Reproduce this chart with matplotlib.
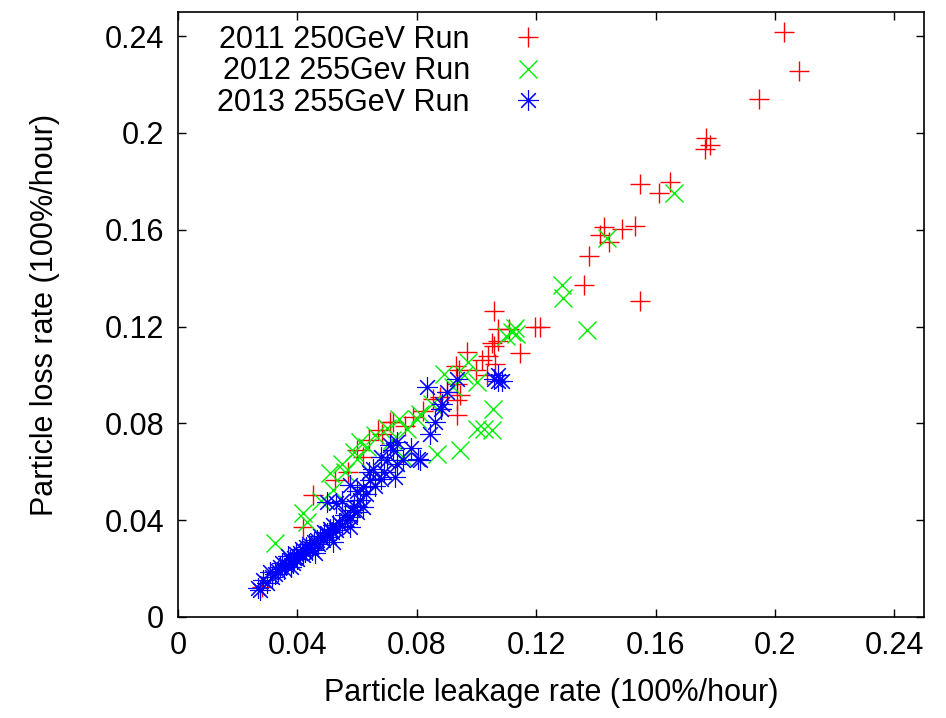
import matplotlib
matplotlib.use("Agg")
import matplotlib.pyplot as plt
from matplotlib.ticker import FormatStrFormatter

plt.rcParams["font.family"] = ["Liberation Sans", "DejaVu Sans"]

# 2011 250GeV run
x2011 = [0.2030, 0.2080, 0.1946, 0.1769, 0.1784, 0.1767, 0.1547, 0.1647, 0.1613,
         0.1429, 0.1415, 0.1444, 0.1486, 0.1530, 0.1376, 0.1362, 0.1547,
         0.1195, 0.1214, 0.1060, 0.1071, 0.1110, 0.1052, 0.1074, 0.1147, 0.0970,
         0.0932, 0.1035, 0.1063, 0.0943, 0.0936, 0.0878, 0.0934, 0.0936, 0.0856,
         0.0720, 0.0789, 0.0683, 0.0672, 0.0711, 0.0526, 0.0454, 0.0420, 0.0946,
         0.0640, 0.0600, 0.0620, 0.0570, 0.0760, 0.0820, 0.0880, 0.0900, 0.1000,
         0.1040, 0.1060, 0.1020, 0.0281]
y2011 = [0.2418, 0.2255, 0.2139, 0.1981, 0.1949, 0.1933, 0.1791, 0.1798, 0.1750,
         0.1612, 0.1580, 0.1548, 0.1603, 0.1614, 0.1493, 0.1372, 0.1304,
         0.1200, 0.1200, 0.1266, 0.1191, 0.1190, 0.1131, 0.1139, 0.1090, 0.1094,
         0.1039, 0.0998, 0.1046, 0.1019, 0.0964, 0.0909, 0.0898, 0.0833, 0.0902,
         0.0805, 0.0826, 0.0758, 0.0771, 0.0805, 0.0568, 0.0503, 0.0372, 0.0916,
         0.0730, 0.0690, 0.0660, 0.0600, 0.0790, 0.0850, 0.0860, 0.0930, 0.1020,
         0.1080, 0.1120, 0.1060, 0.0125]

# 2012 255GeV run
x2012 = [0.1663, 0.1437, 0.1287, 0.1290, 0.1370, 0.1119, 0.1133, 0.1100, 0.1130,
         0.0973, 0.0890, 0.1002, 0.1057, 0.1002, 0.1052, 0.1024, 0.0946, 0.0867,
         0.0811, 0.0767, 0.0717, 0.0755, 0.0325, 0.0420, 0.0431, 0.0510, 0.0549,
         0.0633, 0.0610, 0.0800, 0.0521, 0.0599, 0.0590, 0.0660, 0.0700, 0.0740,
         0.0560, 0.0480, 0.0850, 0.0920, 0.0960]
y2012 = [0.1750, 0.1564, 0.1372, 0.1317, 0.1186, 0.1177, 0.1170, 0.1160, 0.1195,
         0.1053, 0.1005, 0.0970, 0.0861, 0.0778, 0.0771, 0.0778, 0.0689, 0.0675,
         0.0840, 0.0778, 0.0730, 0.0661, 0.0304, 0.0428, 0.0393, 0.0593, 0.0634,
         0.0702, 0.0723, 0.0819, 0.0524, 0.0654, 0.0680, 0.0750, 0.0780, 0.0820,
         0.0600, 0.0480, 0.0880, 0.0950, 0.1000]

# 2013 255GeV run
x2013 = [0.0269, 0.0275, 0.0286, 0.0300, 0.0308, 0.0315, 0.0325, 0.0342, 0.0335,
         0.0350, 0.0355, 0.0362, 0.0376, 0.0370, 0.0385, 0.0390, 0.0395, 0.0400,
         0.0409, 0.0415, 0.0420, 0.0425, 0.0430, 0.0443, 0.0440, 0.0450, 0.0455,
         0.0465, 0.0470, 0.0475, 0.0485, 0.0490, 0.0499, 0.0505, 0.0510, 0.0521,
         0.0515, 0.0530, 0.0540, 0.0550, 0.0566, 0.0560, 0.0575, 0.0585, 0.0599,
         0.0590, 0.0610, 0.0620, 0.0499, 0.0577, 0.0621, 0.0644, 0.0630, 0.0655,
         0.0660, 0.0640, 0.0690, 0.0680, 0.0728, 0.0733, 0.0722, 0.0733, 0.0700,
         0.0755, 0.0806, 0.0811, 0.0845, 0.0862, 0.0884, 0.0901, 0.0834, 0.0936,
         0.1074, 0.1074, 0.1085, 0.1060, 0.0550, 0.0530, 0.0600, 0.0680, 0.0710,
         0.0780, 0.0880, 0.0380, 0.0460, 0.0520, 0.0575]
y2013 = [0.0118, 0.0110, 0.0153, 0.0140, 0.0187, 0.0165, 0.0178, 0.0207, 0.0190,
         0.0225, 0.0200, 0.0215, 0.0235, 0.0250, 0.0225, 0.0245, 0.0262, 0.0240,
         0.0263, 0.0280, 0.0255, 0.0270, 0.0290, 0.0283, 0.0300, 0.0275, 0.0310,
         0.0318, 0.0300, 0.0335, 0.0320, 0.0350, 0.0345, 0.0330, 0.0365, 0.0379,
         0.0350, 0.0360, 0.0390, 0.0375, 0.0400, 0.0420, 0.0415, 0.0440, 0.0434,
         0.0460, 0.0483, 0.0455, 0.0475, 0.0544, 0.0537, 0.0565, 0.0510, 0.0613,
         0.0540, 0.0600, 0.0600, 0.0570, 0.0579, 0.0634, 0.0689, 0.0723, 0.0650,
         0.0647, 0.0654, 0.0647, 0.0758, 0.0805, 0.0881, 0.0929, 0.0950, 0.0982,
         0.0977, 0.0998, 0.0975, 0.0985, 0.0480, 0.0470, 0.0520, 0.0660, 0.0710,
         0.0700, 0.0860, 0.0205, 0.0265, 0.0310, 0.0370]

ticks = [0, 0.04, 0.08, 0.12, 0.16, 0.2, 0.24]

fig = plt.figure(figsize=(9.46, 7.18), dpi=100)
ax = fig.add_axes([0.188, 0.1407, 0.789, 0.8426])

ax.plot(x2011, y2011, ls="none", marker="+", ms=14, mew=1.0, color="#ff0000",
        label="2011 250GeV Run")
ax.plot(x2012, y2012, ls="none", marker="x", ms=13, mew=1.0, color="#00ee00",
        label="2012 255Gev Run")
ax.plot(x2013, y2013, ls="none", marker=(8, 2, 0), ms=15, mew=0.8, color="#0000ff",
        label="2013 255GeV Run")

ax.set_xlim(0, 0.25)
ax.set_ylim(0, 0.25)
ax.set_xticks(ticks)
ax.set_yticks(ticks)
ax.xaxis.set_major_formatter(FormatStrFormatter("%g"))
ax.yaxis.set_major_formatter(FormatStrFormatter("%g"))
ax.tick_params(direction="in", top=True, right=True, length=6, width=1,
               labelsize=22, pad=10)
for s in ax.spines.values():
    s.set_linewidth(1.2)

ax.set_xlabel("Particle leakage rate (100%/hour)", fontsize=22, labelpad=12)
ax.set_ylabel("Particle loss rate (100%/hour)", fontsize=22, labelpad=32)

ax.legend(loc="upper right", bbox_to_anchor=(0.51, 1.004), frameon=False,
          markerfirst=False, numpoints=1, fontsize=22, borderpad=0,
          handlelength=1.0, handletextpad=1.4, labelspacing=0.05)

fig.savefig("out.png", dpi=100)
